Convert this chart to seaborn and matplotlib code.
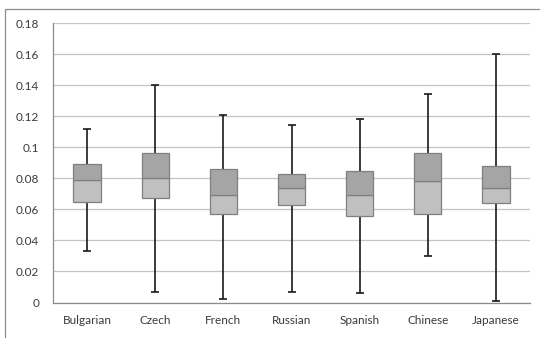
import matplotlib
matplotlib.use('Agg')
import matplotlib.pyplot as plt
import matplotlib.ticker as mticker
from matplotlib.patches import Rectangle
import pandas as pd
import seaborn as sns

# five-number summary
languages = ['Bulgarian', 'Czech', 'French', 'Russian', 'Spanish', 'Chinese', 'Japanese']
low_whisker = [0.033, 0.007, 0.002, 0.007, 0.006, 0.030, 0.001]
q1 = [0.065, 0.067, 0.057, 0.063, 0.056, 0.057, 0.064]
median = [0.079, 0.080, 0.069, 0.074, 0.069, 0.078, 0.074]
q3 = [0.089, 0.096, 0.086, 0.083, 0.085, 0.096, 0.088]
high_whisker = [0.112, 0.140, 0.121, 0.114, 0.118, 0.134, 0.160]
y_ticks = [0, 0.02, 0.04, 0.06, 0.08, 0.1, 0.12, 0.14, 0.16, 0.18]

df = pd.DataFrame({'lang': languages, 'low': low_whisker, 'q1': q1,
                   'med': median, 'q3': q3, 'high': high_whisker})
df['lower_part'] = df['med'] - df['q1']
df['upper_part'] = df['q3'] - df['med']

sns.set_style('white')
plt.rcParams['font.family'] = ['Lato', 'DejaVu Sans']
plt.rcParams['font.size'] = 8.5

fig = plt.figure(figsize=(5.4, 3.38), dpi=100)
ax = fig.add_axes([53 / 540, 1 - 302.5 / 338, 477 / 540, 279.5 / 338])

TEXT = '#3a3a3a'
EDGE = '#7f7f7f'

# whiskers (drawn behind the boxes)
pos = list(range(len(languages)))
ax.errorbar(pos, df['med'], yerr=[df['med'] - df['low'], df['high'] - df['med']],
            fmt='none', ecolor='#1a1a1a', elinewidth=1.2, capsize=3, capthick=1.2, zorder=2)

# lower and upper halves of the box as stacked bars
sns.barplot(data=df, x='lang', y='lower_part', order=languages, color='#c0c0c0',
            width=0.4, edgecolor=EDGE, linewidth=0.9, saturation=1, ax=ax, zorder=3)
n = len(languages)
for patch, bottom in zip(ax.patches[:n], df['q1']):
    patch.set_y(bottom)
sns.barplot(data=df, x='lang', y='upper_part', order=languages, color='#a5a5a5',
            width=0.4, edgecolor=EDGE, linewidth=0.9, saturation=1, ax=ax, zorder=3)
for patch, bottom in zip(ax.patches[n:], df['med']):
    patch.set_y(bottom)

ax.set_xlim(-0.5, n - 0.5)
ax.set_ylim(0, 0.18)
ax.set_yticks(y_ticks)
ax.yaxis.set_major_formatter(mticker.FormatStrFormatter('%g'))
ax.set_xlabel('')
ax.set_ylabel('')

ax.grid(axis='y', color='#c4c4c4', linewidth=0.9)
ax.set_axisbelow(True)
for s in ['top', 'right']:
    ax.spines[s].set_visible(False)
for s in ['left', 'bottom']:
    ax.spines[s].set_color('#8c8c8c')
    ax.spines[s].set_linewidth(0.9)

ax.set_xticks([i + 0.5 for i in range(-1, n)], minor=True)
ax.tick_params(axis='x', which='major', length=0, pad=9, colors=TEXT, labelsize=8.5)
ax.tick_params(axis='x', which='minor', length=4, color='#8c8c8c', direction='out')
ax.tick_params(axis='y', length=4, color='#8c8c8c', direction='out', pad=6,
               labelcolor=TEXT, labelsize=8.5)

# chart-area border, only left and top visible in the crop
fig.patches.append(Rectangle((5 / 540, -0.1), 1.2, 1 - 9 / 338 + 0.1,
                             transform=fig.transFigure, fill=False,
                             edgecolor='#8c8c8c', linewidth=0.9))

fig.savefig('out.png', dpi=100)
